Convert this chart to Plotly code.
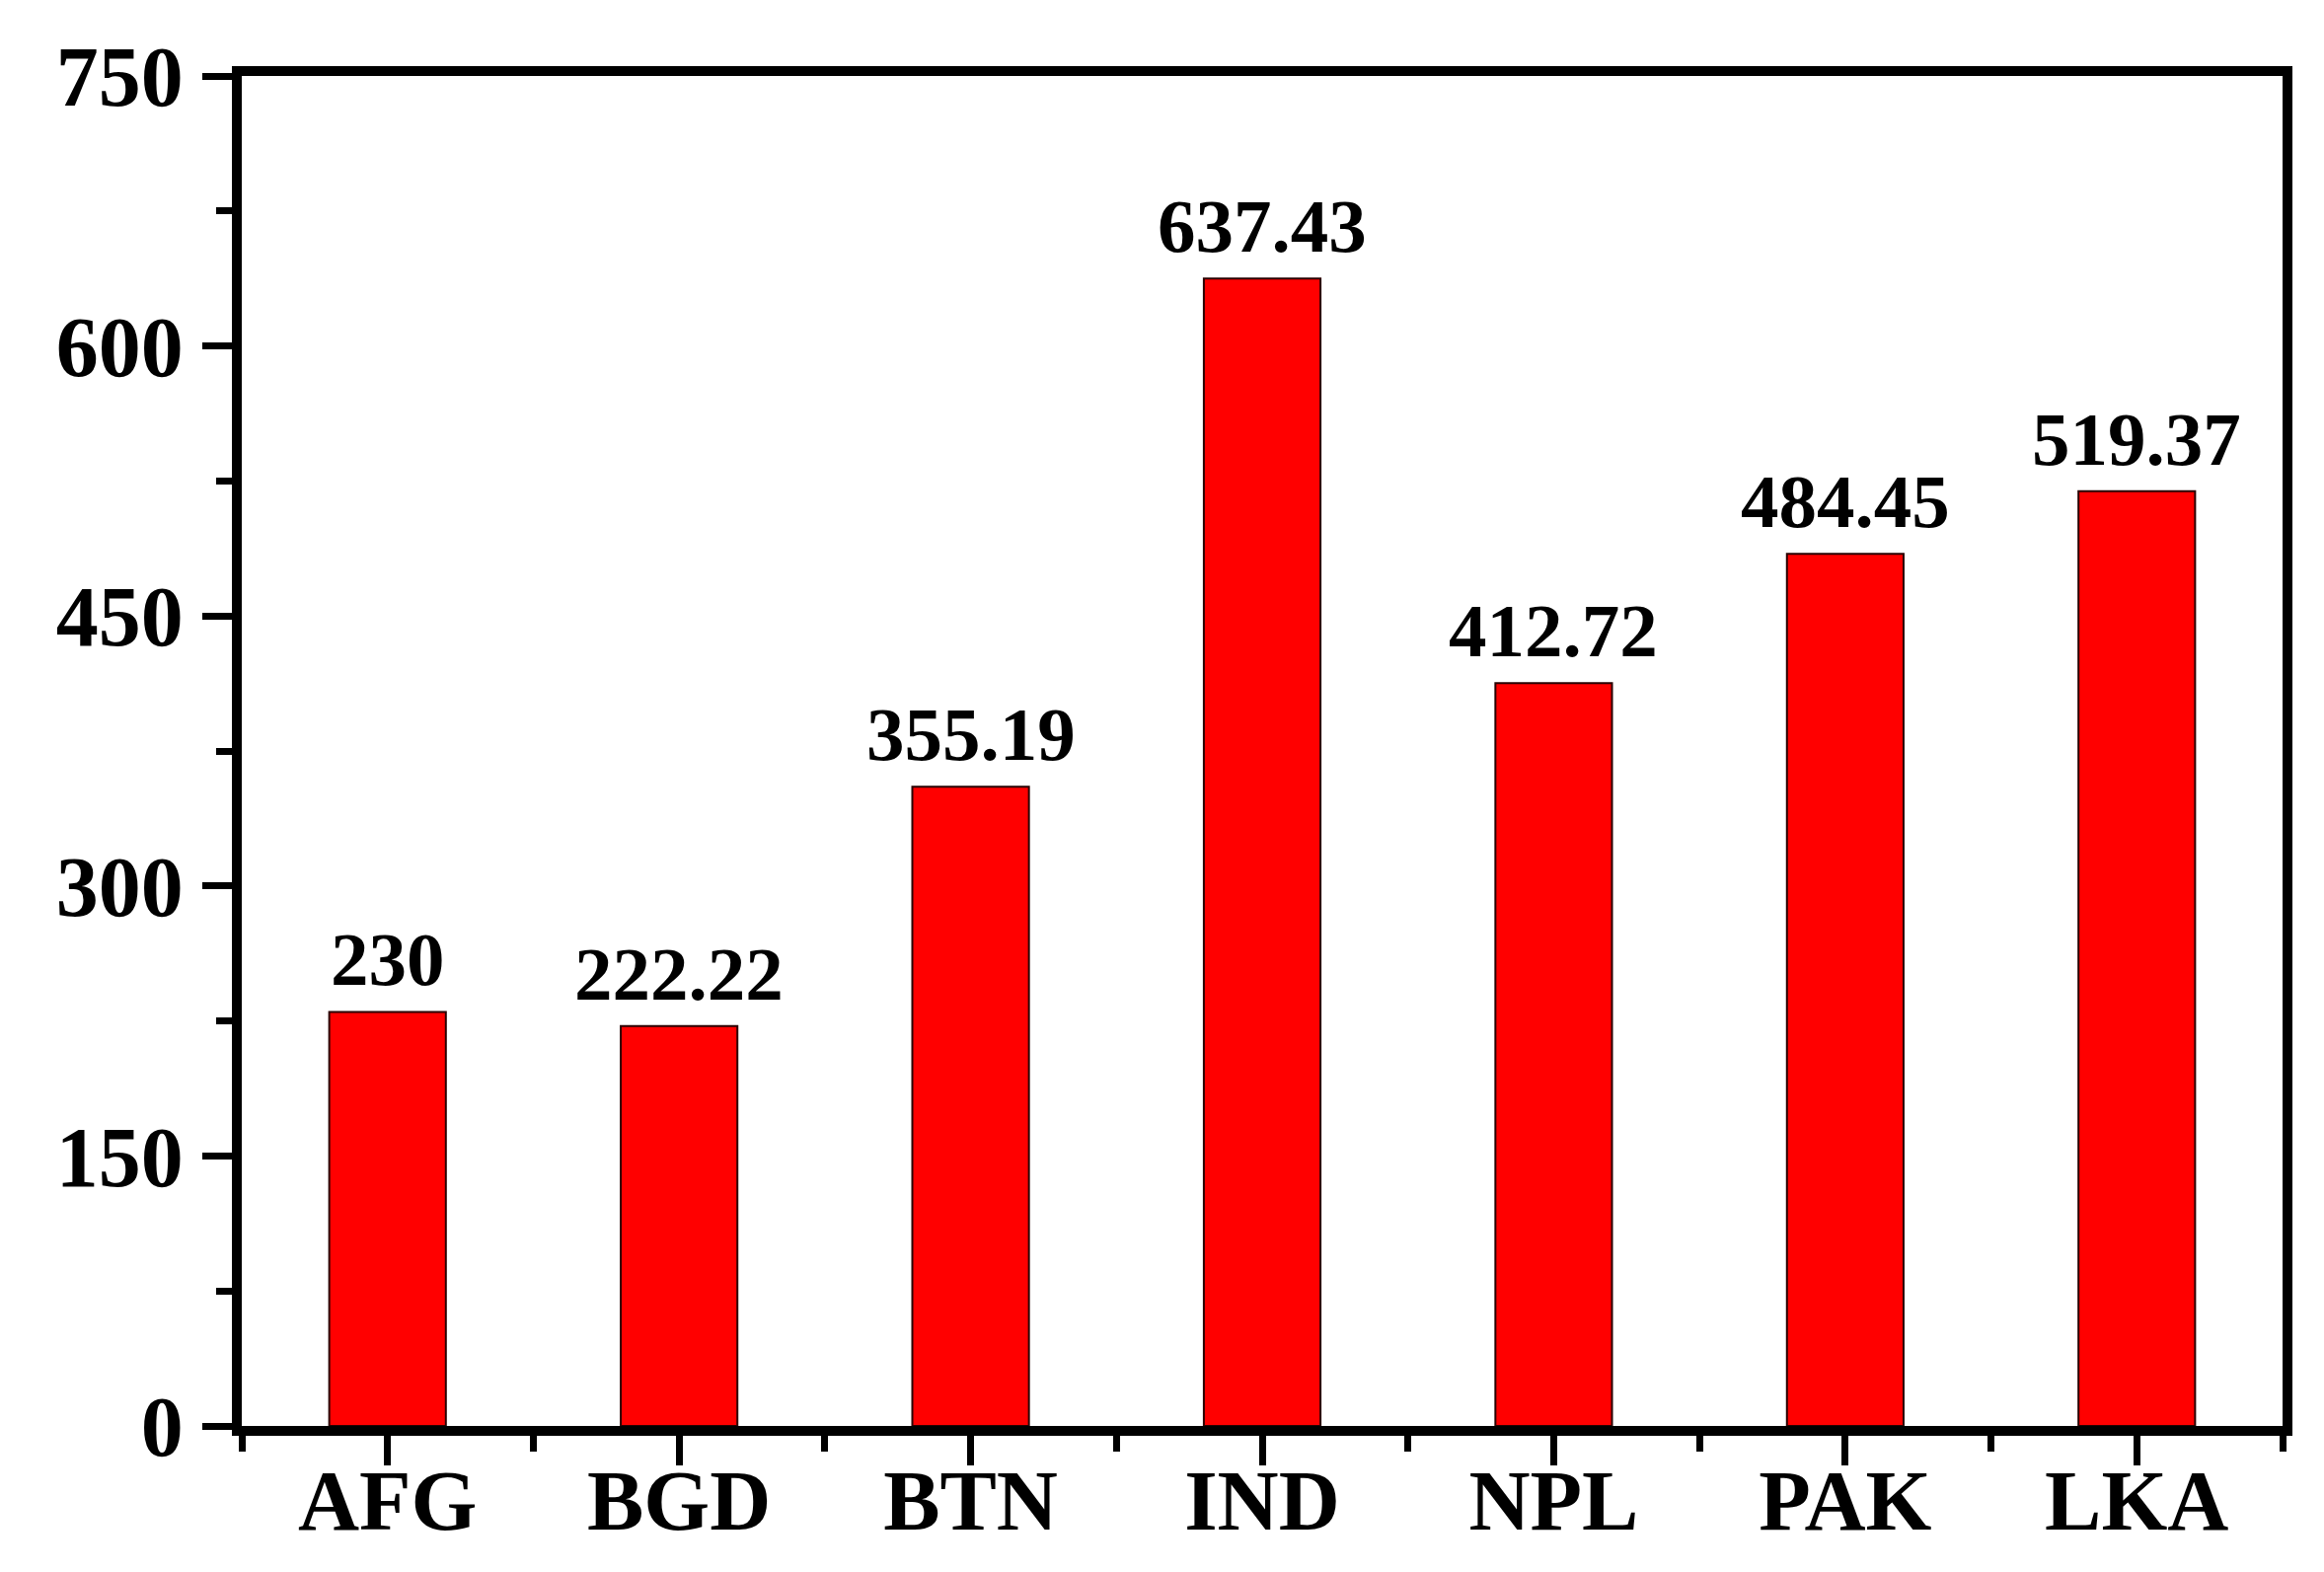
import plotly.graph_objects as go

# values
countries = ['AFG', 'BGD', 'BTN', 'IND', 'NPL', 'PAK', 'LKA']
values = [230, 222.22, 355.19, 637.43, 412.72, 484.45, 519.37]
value_labels = ['230', '222.22', '355.19', '637.43', '412.72', '484.45', '519.37']
y_ticks = [0, 150, 300, 450, 600, 750]

serif = 'Liberation Serif, Times New Roman, serif'
positions = list(range(len(countries)))

fig = go.Figure()
fig.add_trace(go.Bar(
    x=positions, y=values, width=0.4,
    marker=dict(color='#ff0000', line=dict(color='#2a0000', width=2)),
    showlegend=False,
))

# value labels above each bar
for pos, val, lab in zip(positions, values, value_labels):
    fig.add_annotation(x=pos, y=val, text=lab, showarrow=False,
                       yanchor='bottom', yshift=8,
                       font=dict(family=serif, size=77, color='black', weight='bold'))

axis_font = dict(family=serif, size=86, color='black', weight='bold')

fig.update_xaxes(
    range=[-0.5, len(countries) - 0.5],
    tickmode='array', tickvals=positions, ticktext=countries,
    ticks='outside', ticklen=30, tickwidth=7, tickcolor='black',
    minor=dict(ticks='outside', tick0=0.5, dtick=1, ticklen=16, tickwidth=7, tickcolor='black'),
    showline=True, linewidth=10, linecolor='black', mirror=True,
    showgrid=False, zeroline=False, tickfont=axis_font, ticklabelstandoff=-38,
    automargin=False,
)
fig.update_yaxes(
    range=[0, 750],
    tickmode='array', tickvals=y_ticks,
    ticks='outside', ticklen=30, tickwidth=7, tickcolor='black',
    minor=dict(ticks='outside', tick0=0, dtick=75, ticklen=16, tickwidth=7, tickcolor='black'),
    showline=True, linewidth=10, linecolor='black', mirror=True,
    showgrid=False, zeroline=False, tickfont=axis_font, ticklabelstandoff=2,
    automargin=False,
)

# page body keeps its default 8px margin, so the figure is a bit smaller
fig.update_layout(
    width=2347, height=1585,
    margin=dict(l=237, r=42, t=69, b=148, autoexpand=False),
    plot_bgcolor='white', paper_bgcolor='white',
    bargap=0.6,
)

fig.write_html('out.html')
